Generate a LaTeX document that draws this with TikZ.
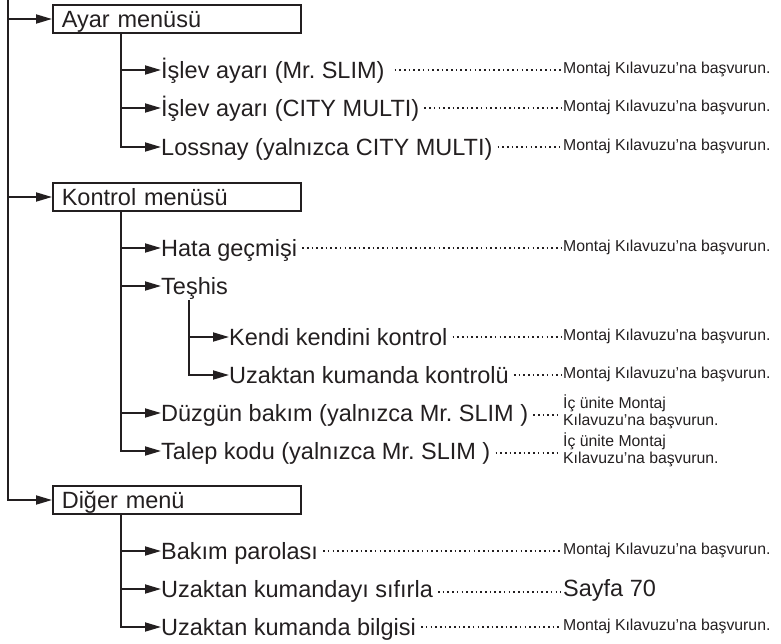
\documentclass[tikz,border=0pt]{standalone}
\usepackage{fontspec}
\setmainfont{Liberation Sans}
\usetikzlibrary{arrows.meta}
\definecolor{ink}{RGB}{35,31,32}
\frenchspacing
\begin{document}
\frenchspacing
\begin{tikzpicture}[x=1pt,y=-1pt,
 line/.style={draw=ink,line width=1.8pt},
 arr/.style={line,-{Triangle[length=16pt,width=9pt]}},
 menubox/.style={draw=ink,line width=1.6pt,anchor=west,minimum height=28pt,text width=230pt,inner xsep=9pt,inner ysep=0pt,align=left,font=\fontsize{23.5}{26}\selectfont,text=ink,text height=16.8pt,text depth=0pt},
 item/.style={anchor=west,inner sep=0pt,font=\fontsize{23.5}{26}\selectfont,text=ink,text height=16.8pt,text depth=0pt},
 ref/.style={anchor=base west,inner sep=0pt,font=\fontsize{15.8}{17}\selectfont,text=ink},
 reftwo/.style={anchor=west,inner sep=0pt,align=left,font=\fontsize{15.8}{16.8}\selectfont,text=ink},
 bigref/.style={anchor=base west,inner sep=0pt,font=\fontsize{23.5}{26}\selectfont,text=ink},
 dots/.style={draw=ink,line width=1.6pt,dash pattern=on 1.6pt off 3.1pt,shorten >=2pt}]
\useasboundingbox (0,0) rectangle (781,643);
\coordinate (m0) at (8,0);

% --- Ayar menusu
\node[menubox] (ayar) at (52,19) {Ayar menüsü};
\node[item] (a1) at (161,70) {İşlev ayarı (Mr. SLIM)};
\node[item] (a2) at (161,108) {İşlev ayarı (CITY MULTI)};
\node[item] (a3) at (161,147) {Lossnay (yalnızca CITY MULTI)};
\node[ref] (ra1) at (563,73) {Montaj Kılavuzu’na başvurun.};
\node[ref] (ra2) at (563,111) {Montaj Kılavuzu’na başvurun.};
\node[ref] (ra3) at (563,150) {Montaj Kılavuzu’na başvurun.};

% --- Kontrol menusu
\node[menubox] (kontrol) at (52,197) {Kontrol menüsü};
\node[item] (k1) at (161,248) {Hata geçmişi};
\node[item] (k2) at (161,286) {Teşhis};
\node[item] (k21) at (229,337) {Kendi kendini kontrol};
\node[item] (k22) at (229,375) {Uzaktan kumanda kontrolü};
\node[item] (k3) at (161,413) {Düzgün bakım (yalnızca Mr. SLIM )};
\node[item] (k4) at (161,451) {Talep kodu (yalnızca Mr. SLIM )};
\node[ref] (rk1) at (563,251) {Montaj Kılavuzu’na başvurun.};
\node[ref] (rk21) at (563,340) {Montaj Kılavuzu’na başvurun.};
\node[ref] (rk22) at (563,378) {Montaj Kılavuzu’na başvurun.};
\node[reftwo] (rk3) at (563,412) {İç ünite Montaj\\Kılavuzu’na başvurun.};
\node[reftwo] (rk4) at (563,450) {İç ünite Montaj\\Kılavuzu’na başvurun.};

% --- Diger menu
\node[menubox] (diger) at (52,500) {Diğer menü};
\node[item] (d1) at (161,551) {Bakım parolası};
\node[item] (d2) at (161,589) {Uzaktan kumandayı sıfırla};
\node[item] (d3) at (161,627) {Uzaktan kumanda bilgisi};
\node[ref] (rd1) at (563,554) {Montaj Kılavuzu’na başvurun.};
\node[bigref] (rd2) at (563,596) {Sayfa 70};
\node[ref] (rd3) at (563,630) {Montaj Kılavuzu’na başvurun.};

% --- main spine
\draw[arr] (m0) |- (diger.west);
\draw[arr] (m0 |- ayar.west) -- (ayar.west);
\draw[arr] (m0 |- kontrol.west) -- (kontrol.west);

% --- Ayar branch
\coordinate (sa) at ([xshift=69pt]ayar.south west);
\draw[arr] (sa) |- (a3.west);
\draw[arr] (sa |- a1.west) -- (a1.west);
\draw[arr] (sa |- a2.west) -- (a2.west);

% --- Kontrol branch
\coordinate (sk) at ([xshift=69pt]kontrol.south west);
\draw[arr] (sk) |- (k4.west);
\draw[arr] (sk |- k1.west) -- (k1.west);
\draw[arr] (sk |- k2.west) -- (k2.west);
\draw[arr] (sk |- k3.west) -- (k3.west);
\coordinate (st) at (189,300);
\draw[arr] (st) |- (k22.west);
\draw[arr] (st |- k21.west) -- (k21.west);

% --- Diger branch
\coordinate (sd) at ([xshift=69pt]diger.south west);
\draw[arr] (sd) |- (d3.west);
\draw[arr] (sd |- d1.west) -- (d1.west);
\draw[arr] (sd |- d2.west) -- (d2.west);

% --- dotted leaders
\draw[dots] ([xshift=10pt]a1.east) -- (a1.east -| ra1.west);
\draw[dots] ([xshift=5pt]a2.east) -- (a2.east -| ra2.west);
\draw[dots] ([xshift=5pt]a3.east) -- (a3.east -| ra3.west);
\draw[dots] ([xshift=5pt]k1.east) -- (k1.east -| rk1.west);
\draw[dots] ([xshift=5pt]k21.east) -- (k21.east -| rk21.west);
\draw[dots] ([xshift=5pt]k22.east) -- (k22.east -| rk22.west);
\draw[dots] ([xshift=5pt,yshift=-2pt]k3.east) -- ([yshift=-2pt]k3.east -| rk3.west);
\draw[dots] ([xshift=5pt,yshift=-2pt]k4.east) -- ([yshift=-2pt]k4.east -| rk4.west);
\draw[dots] ([xshift=5pt]d1.east) -- (d1.east -| rd1.west);
\draw[dots] ([xshift=5pt,yshift=-3pt]d2.east) -- ([yshift=-3pt]d2.east -| rd2.west);
\draw[dots] ([xshift=5pt]d3.east) -- (d3.east -| rd3.west);
\end{tikzpicture}
\end{document}
